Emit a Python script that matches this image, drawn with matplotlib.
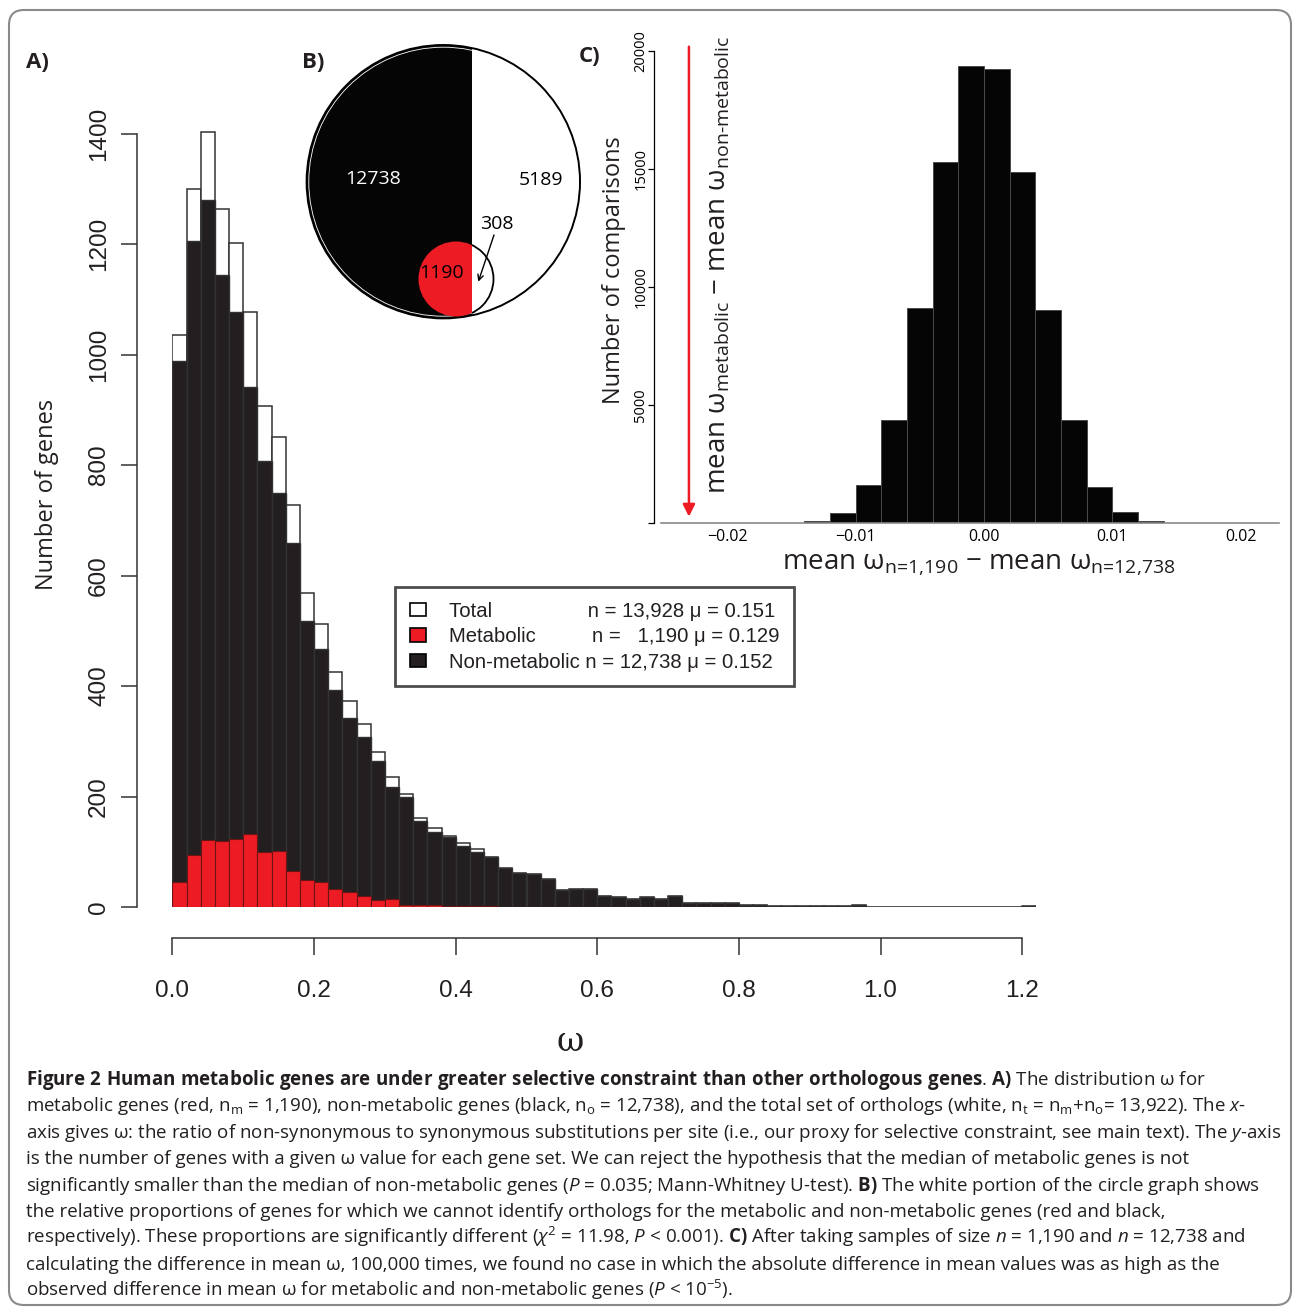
import numpy as np
import matplotlib
matplotlib.use("Agg")
import matplotlib.pyplot as plt
from matplotlib.patches import Patch, Circle, Rectangle, FancyBboxPatch

plt.rcParams['mathtext.fontset'] = 'custom'
plt.rcParams['mathtext.rm'] = 'Open Sans'
plt.rcParams['mathtext.it'] = 'Open Sans:italic'
plt.rcParams['mathtext.bf'] = 'Open Sans:bold'

W, H, DPI = 1293, 1308, 100

# ---------------- data ----------------
# A) omega histogram, bins of 0.02 starting at 0
omega_left = np.round(np.arange(61) * 0.02, 2)
total_counts = [1035, 1300, 1402, 1264, 1202, 1077, 907, 851, 728, 568,
                512, 426, 372, 331, 281, 236, 205, 161, 143, 129,
                115, 105, 91, 71, 62, 60, 51, 31, 32, 32,
                20, 19, 14, 18, 14, 20, 7, 7, 8, 7,
                4, 4, 2, 2, 2, 1, 2, 1, 3, 0,
                0, 0, 0, 0, 0, 0, 0, 0, 0, 0,
                1]
nonmet_counts = [989, 1205, 1279, 1143, 1077, 942, 807, 749, 659, 518,
                 467, 393, 342, 308, 265, 218, 199, 155, 136, 127,
                 110, 100, 90, 70, 61, 60, 51, 31, 32, 32,
                 20, 19, 14, 18, 14, 20, 7, 7, 8, 7,
                 4, 4, 2, 2, 2, 1, 2, 1, 3, 0,
                 0, 0, 0, 0, 0, 0, 0, 0, 0, 0,
                 1]
met_counts = [46, 94, 121, 120, 123, 133, 99, 101, 66, 49,
              45, 32, 27, 20, 13, 14, 4, 3, 3, 1,
              2, 2, 1, 0, 0, 0, 0, 0, 0, 0,
              0, 0, 0, 0, 0, 0, 0, 0, 0, 0,
              0, 0, 0, 0, 0, 0, 0, 0, 0, 0,
              0, 0, 0, 0, 0, 0, 0, 0, 0, 0,
              0]
set_names = ['Total', 'Metabolic', 'Non-metabolic']
set_n = ['13,928', '1,190', '12,738']
set_mu = [0.151, 0.129, 0.152]

# B) gene counts: non-metabolic w/ orthologs, without; metabolic without, with
venn_counts = [12738, 5189, 308, 1190]

# C) resampled differences of mean omega, bins of 0.002
diff_edges = np.round(np.arange(-16, 21, 2) * 0.001, 3)
diff_counts = [20, 97, 449, 1600, 4354, 9108, 15292, 19369, 19231,
               14862, 9046, 4385, 1523, 491, 97, 25, 10, 3]

caption = [
    r"$\mathbf{Figure\ 2\ Human\ metabolic\ genes\ are\ under\ greater\ selective\ constraint\ than\ other\ orthologous\ genes}$. $\mathbf{A)}$ The distribution ω for",
    r"metabolic genes (red, n$_\mathrm{m}$ = 1,190), non-metabolic genes (black, n$_\mathrm{o}$ = 12,738), and the total set of orthologs (white, n$_\mathrm{t}$ = n$_\mathrm{m}$+n$_\mathrm{o}$= 13,922). The $x$-",
    r"axis gives ω: the ratio of non-synonymous to synonymous substitutions per site (i.e., our proxy for selective constraint, see main text). The $y$-axis",
    "is the number of genes with a given ω value for each gene set. We can reject the hypothesis that the median of metabolic genes is not",
    r"significantly smaller than the median of non-metabolic genes ($P$ = 0.035; Mann-Whitney U-test). $\mathbf{B)}$ The white portion of the circle graph shows",
    "the relative proportions of genes for which we cannot identify orthologs for the metabolic and non-metabolic genes (red and black,",
    r"respectively). These proportions are significantly different ($\chi^2$ = 11.98, $P$ < 0.001). $\mathbf{C)}$ After taking samples of size $n$ = 1,190 and $n$ = 12,738 and",
    "calculating the difference in mean ω, 100,000 times, we found no case in which the absolute difference in mean values was as high as the",
    r"observed difference in mean ω for metabolic and non-metabolic genes ($P$ < 10$^{-5}$).",
]

fig = plt.figure(figsize=(W / DPI, H / DPI), dpi=DPI)
fig.patch.set_facecolor('white')


def px_axes(left, top, right, bottom):
    ax = fig.add_axes([left / W, 1 - bottom / H, (right - left) / W, (bottom - top) / H])
    ax.set_facecolor('none')
    return ax


def ftext(x, y, s, **kw):
    return fig.text(x / W, 1 - y / H, s, **kw)


PT = 72 / DPI  # pixels -> points
BLACK = '#231f20'
RED = '#ed1c24'

# ---------------- panel A ----------------
A_PX = 773.5 / 1400  # pixels per gene
axA = px_axes(172.5, 907 - 1420 * A_PX, 172.5 + 1.22 * 708, 907)
axA.bar(omega_left, total_counts, width=0.02, align='edge', color='white',
        edgecolor='#333333', linewidth=1.1)
axA.bar(omega_left, nonmet_counts, width=0.02, align='edge', color=BLACK,
        edgecolor='#333333', linewidth=1.0)
axA.bar(omega_left, met_counts, width=0.02, align='edge', color=RED,
        edgecolor='#6b1414', linewidth=0.8)
axA.set_xlim(0, 1.22)
axA.set_ylim(0, 1420)
for s in ['top', 'right']:
    axA.spines[s].set_visible(False)
axA.spines['left'].set_position(('outward', 35.8 * PT))
axA.spines['left'].set_bounds(0, 1400)
axA.spines['bottom'].set_position(('outward', 30.7 * PT))
axA.spines['bottom'].set_bounds(0, 1.2)
for s in ['left', 'bottom']:
    axA.spines[s].set_color('#333333')
    axA.spines[s].set_linewidth(1.1)
axA.set_xticks(np.round(np.arange(0, 1.21, 0.2), 1))
axA.set_xticklabels(['%.1f' % v for v in np.arange(0, 1.21, 0.2)])
axA.set_yticks(range(0, 1401, 200))
axA.tick_params(axis='both', length=16.5 * PT, width=1.1, color='#333333',
                labelsize=17.5, labelcolor='#231f20')
axA.tick_params(axis='x', pad=26 * PT)
axA.tick_params(axis='y', pad=10 * PT)
for lab in axA.get_xticklabels() + axA.get_yticklabels():
    lab.set_family('Liberation Sans')
plt.setp(axA.get_yticklabels(), rotation=90, va='center')

handles = [Patch(facecolor=c, edgecolor='black', linewidth=1.2)
           for c in ['white', RED, BLACK]]
pads = [17, 10, 1]
labels = []
for name, n, mu, p in zip(set_names, set_n, set_mu, pads):
    num = n if len(n) == 6 else '  ' + n
    labels.append(f"{name}{' ' * p}n = {num} μ = {mu:.3f}")
leg = axA.legend(handles, labels, loc='upper left',
                 bbox_to_anchor=((395 - 172.5) / (1.22 * 708), (907 - 587) / (1420 * A_PX)),
                 borderaxespad=0, frameon=True, fancybox=False, edgecolor=BLACK,
                 prop={'family': 'Liberation Sans', 'size': 14.6}, borderpad=0.72,
                 handlelength=0.82, handleheight=0.64, handletextpad=1.1,
                 labelspacing=0.32)
leg.get_frame().set_linewidth(2.0)
for t in leg.get_texts():
    t.set_color(BLACK)

ftext(46.7, 494, 'Number of genes', rotation=90, ha='center', va='center',
      fontsize=17, family='Open Sans', color=BLACK)
ftext(570, 1042, 'ω', ha='center', va='center', fontsize=24,
      family='DejaVu Serif', color=BLACK)

# ---------------- panel B ----------------
axB = px_axes(300, 35, 590, 325)
axB.set_xlim(0, 290)
axB.set_ylim(290, 0)
axB.set_aspect('equal')
axB.axis('off')
big_c, big_r = (143.3, 146.7), 136.7
small_c, small_r = (156, 244), 37.5
chord_x = 171.7
left_clip = Rectangle((0, 0), chord_x, 290, transform=axB.transData)
right_clip = Rectangle((chord_x, 0), 290 - chord_x, 290, transform=axB.transData)

blk = Circle(big_c, big_r, facecolor='#050505', edgecolor='none')
axB.add_patch(blk)
blk.set_clip_path(left_clip)
axB.add_patch(Circle(big_c, big_r, fill=False, edgecolor='black', lw=1.4))
inner = Circle(big_c, big_r - 2.2, fill=False, edgecolor='white', lw=0.6)
axB.add_patch(inner)
inner.set_clip_path(left_clip)
red = Circle(small_c, small_r, facecolor=RED, edgecolor='none')
axB.add_patch(red)
red.set_clip_path(left_clip)
sm = Circle(small_c, small_r, fill=False, edgecolor='black', lw=1.3)
axB.add_patch(sm)
sm.set_clip_path(right_clip)

bkw = dict(ha='center', va='center', fontsize=14, family='Open Sans')
axB.text(73, 144, str(venn_counts[0]), color='white', **bkw)
axB.text(241, 145, str(venn_counts[1]), color='black', **bkw)
axB.text(197, 189, str(venn_counts[2]), color='black', **bkw)
axB.text(142, 238, str(venn_counts[3]), color='black', **bkw)
axB.annotate('', xy=(178.3, 246.7), xytext=(194, 200),
             arrowprops=dict(arrowstyle='->', lw=1.0, color='black',
                             shrinkA=0, shrinkB=0))

# ---------------- panel C ----------------
axC = px_axes(660.7, 50.7, 1279.3, 523.3)
axC.bar(diff_edges[:-1], diff_counts, width=0.002, align='edge',
        color='#050505', edgecolor='#4a4a4a', linewidth=0.7)
axC.set_xlim(-0.0252, 0.0230)
axC.set_ylim(0, 20000)
for s in ['top', 'right']:
    axC.spines[s].set_visible(False)
axC.spines['bottom'].set_color('#8a8a8a')
axC.spines['bottom'].set_linewidth(1.2)
axC.spines['left'].set_position(('outward', 6.7 * PT))
axC.spines['left'].set_bounds(0, 20000)
axC.spines['left'].set_linewidth(0.9)
axC.set_xticks([-0.02, -0.01, 0, 0.01, 0.02])
axC.set_xticklabels(['\u22120.02', '\u22120.01', '0.00', '0.01', '0.02'])
axC.set_yticks([0, 5000, 10000, 15000, 20000])
axC.set_yticklabels(['', '5000', '10000', '15000', '20000'])
axC.tick_params(axis='x', length=0, pad=4, labelsize=11.5)
axC.tick_params(axis='y', length=5.7 * PT, width=0.9, pad=0, labelsize=10.5)
for lab in axC.get_xticklabels() + axC.get_yticklabels():
    lab.set_family('Open Sans')
plt.setp(axC.get_yticklabels(), rotation=90, va='center')

obs_diff = set_mu[1] - set_mu[2]
axC.annotate('', xy=(obs_diff, 280), xytext=(obs_diff, 20170),
             arrowprops=dict(arrowstyle='-|>', color=RED, lw=1.8,
                             mutation_scale=18, shrinkA=0, shrinkB=0),
             annotation_clip=False)

ftext(614, 270, 'Number of comparisons', rotation=90, ha='center', va='center',
      fontsize=17, family='Open Sans', color=BLACK)
ftext(718, 265, r"mean ω$_{\mathrm{metabolic}}$ − mean ω$_{\mathrm{non\text{-}metabolic}}$",
      rotation=90, ha='center', va='center', fontsize=20, family='Open Sans',
      color=BLACK)
ftext(979, 563, r"mean ω$_{\text{n=1,190}}$ − mean ω$_{\text{n=12,738}}$",
      ha='center', va='center', fontsize=20, family='Open Sans', color=BLACK)

# panel letters
for lab, x, y in [('A)', 37, 62), ('B)', 313, 62), ('C)', 590, 57)]:
    ftext(x, y, lab, ha='center', va='center', fontsize=16, weight='bold',
          family='Open Sans', color=BLACK)

# ---------------- caption ----------------
cap_texts = [ftext(26, 1085 + 26.4 * i, line, ha='left', va='baseline',
                   fontsize=12, family='Open Sans', color=BLACK)
             for i, line in enumerate(caption)]
renderer = fig.canvas.get_renderer()
w_last = cap_texts[-1].get_window_extent(renderer=renderer).width
w_third = cap_texts[2].get_window_extent(renderer=renderer).width
scale = 0.5 * (709 / w_last + 1242 / w_third)
for t in cap_texts:
    t.set_fontsize(12 * scale)

# outer frame
frame = FancyBboxPatch((9 / DPI, (H - 1305) / DPI), (1291 - 9) / DPI, (1305 - 10) / DPI,
                       boxstyle='round,pad=0,rounding_size=0.15',
                       transform=fig.dpi_scale_trans, fill=False,
                       edgecolor='#8a8a8a', lw=1.5)
fig.add_artist(frame)

fig.savefig('out.png', dpi=DPI)
